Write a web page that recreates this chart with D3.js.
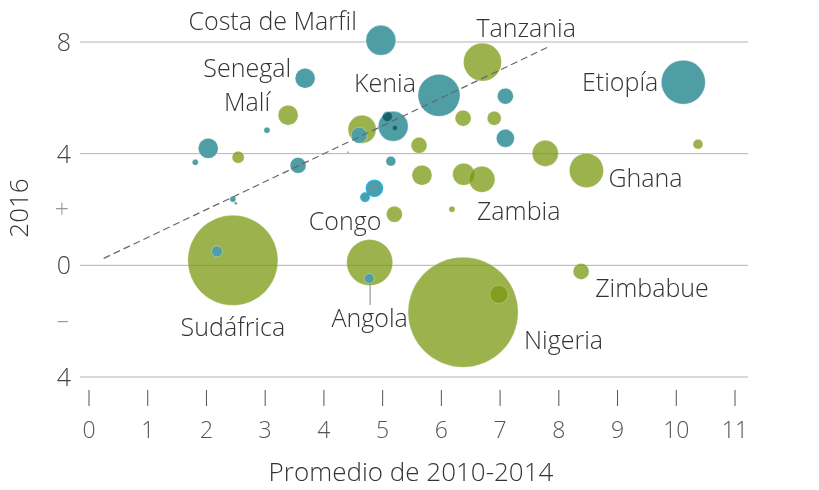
<!DOCTYPE html>
<head>
  <meta charset="utf-8">
  <script src="https://d3js.org/d3.v7.min.js"></script>
  <style>
    body { margin: 0; background: #fff; }
    svg { width: 819px; height: 490px; font-family: 'Open Sans', sans-serif; font-weight: 300; }
  </style>
</head>

<body>
  <svg></svg>
  <script>
    // [avg 2010-2014, 2016, size, name]
    var greenPoints = [
      [2.45, 0.18, 67, 'Sudáfrica'],
      [4.78, 0.10, 17.5, 'Angola'],
      [6.37, -1.68, 100, 'Nigeria'],
      [6.98, -1.04, 2.7, ''],
      [8.38, -0.22, 2.1, 'Zimbabue'],
      [8.47, 3.40, 9.6, 'Ghana'],
      [6.18, 2.01, 0.3, 'Zambia'],
      [6.38, 3.26, 4.0, ''],
      [6.69, 3.08, 5.6, ''],
      [5.67, 3.23, 3.3, ''],
      [5.20, 1.83, 2.1, ''],
      [7.77, 4.01, 5.6, ''],
      [10.37, 4.34, 0.8, ''],
      [6.70, 7.28, 11.9, 'Tanzania'],
      [6.37, 5.27, 2.1, ''],
      [6.90, 5.27, 1.6, ''],
      [5.62, 4.30, 2.1, ''],
      [4.65, 4.87, 6.5, ''],
      [3.39, 5.38, 3.3, 'Malí'],
      [2.54, 3.87, 1.2, '']
    ];
    var tealPoints = [
      [4.97, 8.06, 7.4, 'Costa de Marfil'],
      [3.68, 6.70, 3.3, 'Senegal'],
      [5.96, 6.09, 14.6, 'Kenia'],
      [5.18, 4.98, 7.4, ''],
      [5.08, 5.33, 0.8, ''],
      [5.21, 4.92, 0.2, ''],
      [10.12, 6.56, 16, 'Etiopía'],
      [7.09, 6.06, 2.1, ''],
      [7.09, 4.55, 2.7, ''],
      [2.03, 4.19, 3.3, ''],
      [1.81, 3.69, 0.3, ''],
      [3.03, 4.84, 0.3, ''],
      [3.56, 3.58, 2.1, ''],
      [4.60, 4.66, 2.1, ''],
      [5.14, 3.73, 0.8, ''],
      [4.41, 4.05, 0.03, ''],
      [4.86, 2.76, 2.2, 'Congo'],
      [4.70, 2.44, 0.6, ''],
      [2.45, 2.37, 0.3, ''],
      [2.50, 2.22, 0.07, ''],
      [2.18, 0.50, 1.0, ''],
      [4.77, -0.47, 0.8, '']
    ];
    var highlighted = ['Congo', 4.70];

    var xTicks = [0, 1, 2, 3, 4, 5, 6, 7, 8, 9, 10, 11];
    var yTicks = [8, 4, 0, -4];
    var yTickLabels = ['8', '4', '0', '4'];
    var ySigns = [[2, '+'], [-2, '–']];
    var xTitle = 'Promedio de 2010-2014';
    var yTitle = '2016';

    // label placement: name -> [dx, dy, anchor]
    var labelPos = {
      'Costa de Marfil': [-24, -10, 'end'],
      'Tanzania': [-6, -25, 'start'],
      'Senegal': [-14, -1, 'end'],
      'Kenia': [-23, -3, 'end'],
      'Malí': [-18, -4, 'end'],
      'Etiopía': [-25, 9, 'end'],
      'Ghana': [22, 17, 'start'],
      'Zambia': [25, 11, 'start'],
      'Congo': [7, 42, 'end'],
      'Zimbabue': [14, 26, 'start'],
      'Sudáfrica': [0, 76, 'middle'],
      'Angola': [0, 64, 'middle'],
      'Nigeria': [61, 37, 'start']
    };

    // green drawn semi-transparent so overlaps darken
    var green = '#7a970f', teal = '#4f9ea6';
    var svg = d3.select('svg');
    var x = d3.scaleLinear().domain([0, 11]).range([89, 735]);
    var y = d3.scaleLinear().domain([-4, 8]).range([377, 42]);
    var r = d3.scaleSqrt().domain([0, 100]).range([0, 55]);

    // gridlines
    svg.selectAll('line.grid').data(yTicks).enter().append('line')
      .attr('x1', 80).attr('x2', 748)
      .attr('y1', function(d) { return y(d); })
      .attr('y2', function(d) { return y(d); })
      .attr('stroke', '#b3b3b3').attr('stroke-width', 1);

    svg.selectAll('text.ytick').data(yTicks).enter().append('text')
      .attr('x', 71).attr('y', function(d) { return y(d) + 9; })
      .attr('text-anchor', 'end').attr('font-size', 25).attr('fill', '#444')
      .text(function(d, i) { return yTickLabels[i]; });

    svg.selectAll('text.ysign').data(ySigns).enter().append('text')
      .attr('x', 69).attr('y', function(d) { return y(d[0]) + 8; })
      .attr('text-anchor', 'end').attr('font-size', 25).attr('fill', '#999')
      .text(function(d) { return d[1]; });

    // x axis ticks
    svg.selectAll('line.xtick').data(xTicks).enter().append('line')
      .attr('x1', function(d) { return x(d); }).attr('x2', function(d) { return x(d); })
      .attr('y1', 390).attr('y2', 406)
      .attr('stroke', '#555').attr('stroke-width', 1);
    svg.selectAll('text.xtick').data(xTicks).enter().append('text')
      .attr('x', function(d) { return x(d); }).attr('y', 438)
      .attr('text-anchor', 'middle').attr('font-size', 23).attr('fill', '#555')
      .text(function(d) { return d; });

    svg.append('text').attr('x', 411).attr('y', 481)
      .attr('text-anchor', 'middle').attr('font-size', 26).attr('fill', '#333')
      .text(xTitle);
    svg.append('text').attr('transform', 'translate(28,208)rotate(-90)')
      .attr('text-anchor', 'middle').attr('font-size', 26).attr('fill', '#333')
      .text(yTitle);

    // Angola leader line
    var ang = tealPoints[tealPoints.length - 1];
    svg.append('line')
      .attr('x1', x(ang[0]) + 1).attr('x2', x(ang[0]) + 1)
      .attr('y1', y(ang[1]) + r(ang[2])).attr('y2', 305)
      .attr('stroke', '#999').attr('stroke-width', 1.2);

    // green bubbles
    svg.append('g').selectAll('circle').data(greenPoints).enter().append('circle')
      .attr('cx', function(d) { return x(d[0]); })
      .attr('cy', function(d) { return y(d[1]); })
      .attr('r', function(d) { return r(d[2]); })
      .attr('fill', green).attr('fill-opacity', 0.74)
      .attr('stroke', '#fff').attr('stroke-opacity', 0.3).attr('stroke-width', 0.8);

    // teal bubbles (multiply among themselves)
    svg.append('g').style('isolation', 'isolate')
      .selectAll('circle').data(tealPoints).enter().append('circle')
      .attr('cx', function(d) { return x(d[0]); })
      .attr('cy', function(d) { return y(d[1]); })
      .attr('r', function(d) { return r(d[2]); })
      .attr('fill', teal)
      .style('mix-blend-mode', 'multiply')
      .attr('stroke', function(d) {
        return (d[3] === highlighted[0] || d[0] === highlighted[1]) ? '#22b5e6' : '#fff';
      })
      .attr('stroke-opacity', function(d) {
        return (d[3] === highlighted[0] || d[0] === highlighted[1]) ? 1 : 0.4;
      })
      .attr('stroke-width', function(d) {
        return (d[3] === highlighted[0] || d[0] === highlighted[1]) ? 1.3 : 0.8;
      });

    // diagonal reference line y = x
    svg.append('line')
      .attr('x1', x(0.25)).attr('y1', y(0.25))
      .attr('x2', x(7.85)).attr('y2', y(7.85))
      .attr('stroke', '#666').attr('stroke-width', 1.2)
      .attr('stroke-dasharray', '7,4');

    // labels
    var labelled = greenPoints.concat(tealPoints).filter(function(d) { return labelPos[d[3]]; });
    svg.selectAll('text.lbl').data(labelled).enter().append('text')
      .attr('x', function(d) { return x(d[0]) + labelPos[d[3]][0]; })
      .attr('y', function(d) { return y(d[1]) + labelPos[d[3]][1]; })
      .attr('text-anchor', function(d) { return labelPos[d[3]][2]; })
      .attr('font-size', 25).attr('fill', '#333')
      .text(function(d) { return d[3]; });
  </script>
</body>
